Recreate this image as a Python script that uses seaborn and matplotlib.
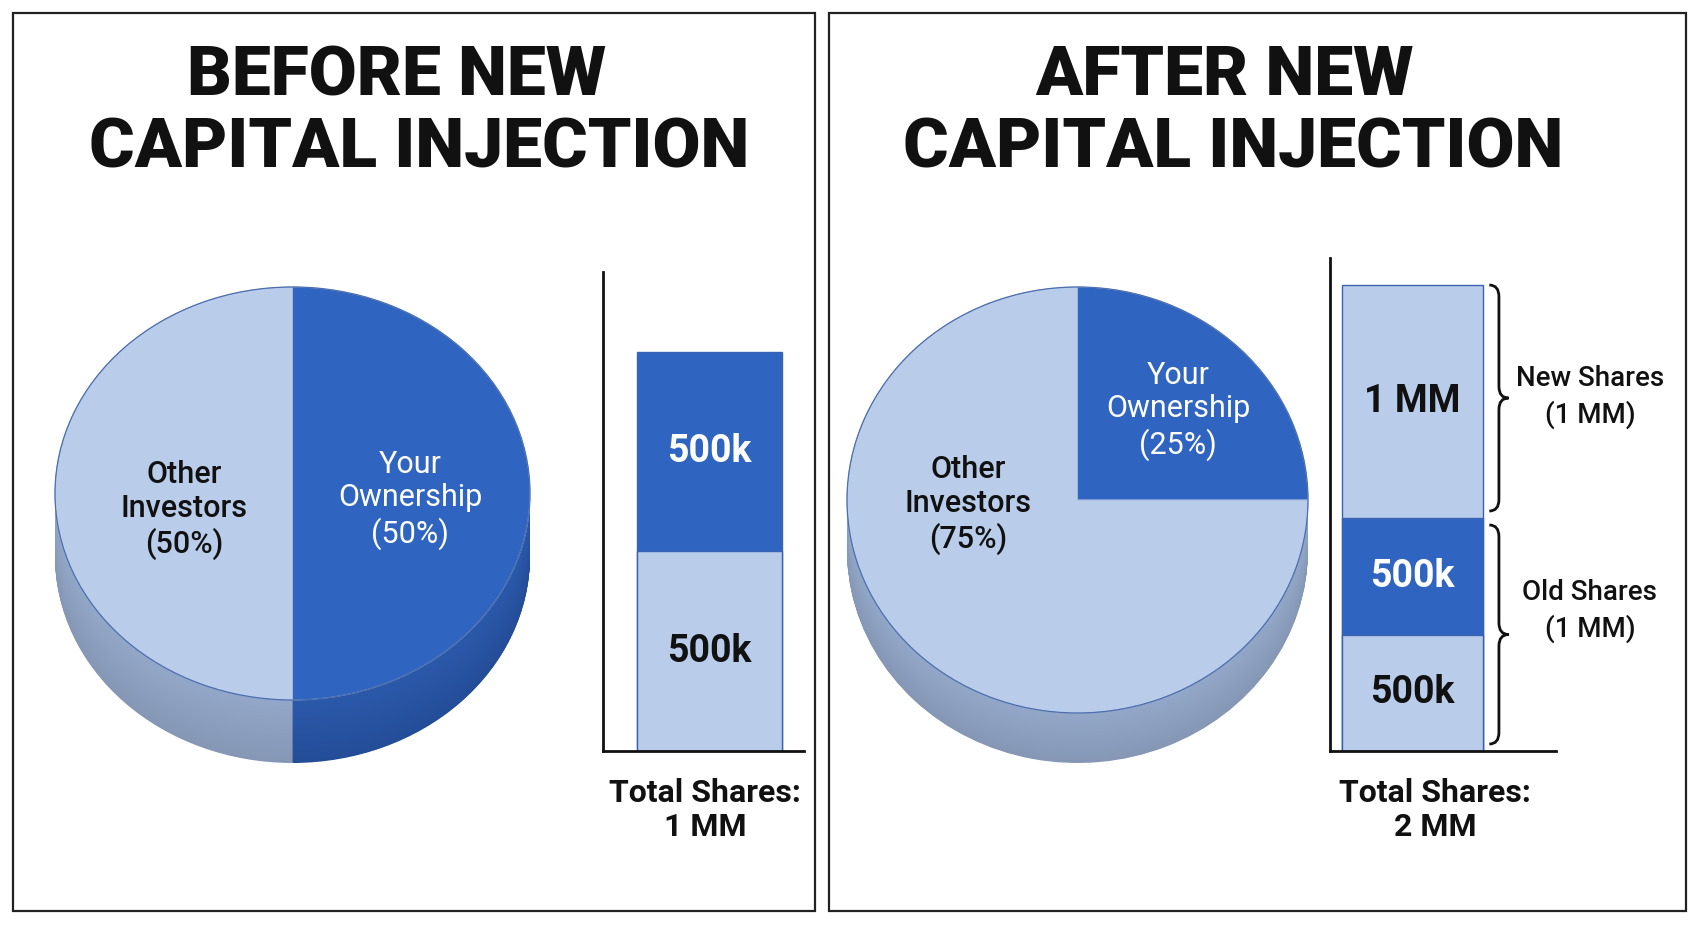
import numpy as np
import pandas as pd
import matplotlib
matplotlib.use("Agg")
import matplotlib.pyplot as plt
import seaborn as sns
from matplotlib.path import Path
from matplotlib.patches import PathPatch, Rectangle
from matplotlib.transforms import blended_transform_factory

# -------------------------
# data
# -------------------------
pie_labels = ["Your\nOwnership", "Other\nInvestors"]
before_pct = [50, 50]
after_pct = [25, 75]

before_shares = [500_000, 500_000]            # bottom -> top
before_seg_labels = ["500k", "500k"]
after_shares = [500_000, 500_000, 1_000_000]  # bottom -> top
after_seg_labels = ["500k", "500k", "1 MM"]

titles = [("BEFORE NEW", "CAPITAL INJECTION"), ("AFTER NEW", "CAPITAL INJECTION")]
totals = ["Total Shares:\n1 MM", "Total Shares:\n2 MM"]
brace_labels = ["New Shares\n(1 MM)", "Old Shares\n(1 MM)"]

# colours
LIGHT = "#b9cdea"
DARK = "#2f65c0"
SIDE_LIGHT = ("#8597b5", "#93a7c8")   # bottom, top
SIDE_DARK = ("#244d98", "#2b59aa")
EDGE = "#3a62b0"
INK = "#111111"

W, H = 1700, 925

sns.set_theme(style="white")
plt.rcParams["font.family"] = ["Roboto", "DejaVu Sans"]

fig = plt.figure(figsize=(W / 100, H / 100), dpi=100)
fig.patch.set_facecolor("white")


def box(x0, y0, x1, y1):
    return [x0 / W, 1 - y1 / H, (x1 - x0) / W, (y1 - y0) / H]


def fx(x):
    return x / W


def fy(y):
    return 1 - y / H


def mix(c1, c2, t):
    a = np.array(matplotlib.colors.to_rgb(c1))
    b = np.array(matplotlib.colors.to_rgb(c2))
    return tuple(a + (b - a) * t)


# panel frames
for x0, x1 in [(13, 815), (829, 1686)]:
    fig.add_artist(Rectangle((fx(x0), fy(911)), (x1 - x0) / W, (911 - 13) / H,
                             fill=False, lw=1.6, ec="#222222",
                             transform=fig.transFigure))

# titles (each line has its own centre, as in the original)
title_centres = [(397, 419), (1224, 1233)]
for (l1, l2), (c1, c2) in zip(titles, title_centres):
    for txt, cx, base in [(l1, c1, 95), (l2, c2, 168)]:
        fig.text(fx(cx), fy(base), txt, ha="center", va="baseline",
                 fontsize=50, fontweight="black", color=INK,
                 family=["Roboto", "DejaVu Sans"])


# 3D-looking pie: stacked pies for the side wall, flat pie on top
def pie3d(cx, cy, rx, ry, depth, pct, label_pos):
    pad = 6
    ax = fig.add_axes(box(cx - rx - pad, cy - ry - pad, cx + rx + pad, cy + ry + depth + pad))
    steps = np.linspace(depth, 0.5, int(depth * 1.5))
    for d in steps:
        t = 1 - d / depth
        ax.pie(pct, startangle=90, counterclock=False, radius=1,
               center=(0, -d / ry),
               colors=[mix(*SIDE_DARK, t), mix(*SIDE_LIGHT, t)],
               wedgeprops=dict(linewidth=0))
    ax.pie(pct, startangle=90, counterclock=False, radius=1,
           colors=[DARK, LIGHT], wedgeprops=dict(linewidth=0.6, edgecolor="#9fb6dc"))
    # thin rim on the top face
    ax.pie([1], radius=1, colors=["none"],
           wedgeprops=dict(linewidth=0.9, edgecolor="#4d6fae", fill=False))
    ax.set_aspect("auto")
    ax.set_xlim(-(rx + pad) / rx, (rx + pad) / rx)
    ax.set_ylim(-(ry + depth + pad) / ry, (ry + pad) / ry)
    ax.axis("off")
    for (lx, ly), lab, p, col, wt in zip(label_pos, pie_labels, pct,
                                         ["white", INK], ["normal", "medium"]):
        ax.text((lx - cx) / rx, (cy - ly) / ry, f"{lab}\n({p}%)", ha="center",
                va="center", fontsize=22, color=col, fontweight=wt, linespacing=1.2)
    return ax


pie3d(292.5, 493.5, 237.5, 206.5, 63, before_pct, [(410, 500), (184, 510)])
pie3d(1077.5, 500, 230.5, 213, 50, after_pct, [(1178, 411), (968, 505)])


# stacked share bars (cumulative overlay, tallest first)
def share_bar(rect, bar_px, shares, seg_labels, colors, ytop):
    x0, y0, x1, y1 = rect
    ax = fig.add_axes(box(x0, y0, x1, y1))
    cum = np.cumsum(shares)
    for i in reversed(range(len(shares))):
        df = pd.DataFrame({"col": ["shares"], "val": [cum[i]]})
        sns.barplot(data=df, x="col", y="val", ax=ax, color=colors[i],
                    saturation=1, width=1, edgecolor=EDGE, linewidth=1.0,
                    errorbar=None)
    bw = bar_px[1] - bar_px[0]
    ax.set_xlim(-0.5 - (bar_px[0] - x0) / bw, 0.5 + (x1 - bar_px[1]) / bw)
    ax.set_ylim(0, ytop)
    ax.set_xticks([])
    ax.set_yticks([])
    ax.set_xlabel("")
    ax.set_ylabel("")
    ax.set_facecolor("none")
    for s in ["top", "right"]:
        ax.spines[s].set_visible(False)
    for s in ["left", "bottom"]:
        ax.spines[s].set_color(INK)
        ax.spines[s].set_linewidth(2)
    for i, lab in enumerate(seg_labels):
        mid = cum[i] - shares[i] / 2
        ax.text(0, mid, lab, ha="center", va="center", fontsize=27,
                fontweight="bold", color="white" if colors[i] == DARK else INK)
    return ax


share_bar((603, 272, 804, 751), (637, 782), before_shares, before_seg_labels,
          [LIGHT, DARK], 1.2e6)
axr = share_bar((1330, 258, 1556, 751), (1342, 1483), after_shares, after_seg_labels,
                [LIGHT, DARK, LIGHT], 2.116e6)


# curly braces next to the right bar
def brace(ax, xa, w, y0, y1, r):
    ym = (y0 + y1) / 2
    h = xa + w / 2
    verts = [(xa, y1), (h, y1), (h, y1 - r),
             (h, ym + r),
             (h, ym), (xa + w, ym),
             (h, ym), (h, ym - r),
             (h, y0 + r),
             (h, y0), (xa, y0)]
    codes = [Path.MOVETO, Path.CURVE3, Path.CURVE3, Path.LINETO, Path.CURVE3,
             Path.CURVE3, Path.CURVE3, Path.CURVE3, Path.LINETO, Path.CURVE3, Path.CURVE3]
    trans = blended_transform_factory(ax.transAxes, ax.transData)
    ax.add_patch(PathPatch(Path(verts, codes), fill=False, lw=2, ec=INK,
                           transform=trans, clip_on=False))


cum_after = np.cumsum(after_shares)
gap = 0.03e6
brace(axr, 0.705, 0.085, cum_after[1] + gap, cum_after[2], 0.05e6)
brace(axr, 0.705, 0.085, 0 + gap, cum_after[1] - gap, 0.05e6)
trans = blended_transform_factory(axr.transAxes, axr.transData)
axr.text(1.15, (cum_after[1] + cum_after[2]) / 2 + 0.02e6, brace_labels[0], transform=trans,
         ha="center", va="center", fontsize=20, fontweight="medium", color=INK,
         linespacing=1.4)
axr.text(1.15, cum_after[1] / 2 + 0.1e6, brace_labels[1], transform=trans,
         ha="center", va="center", fontsize=20, fontweight="medium", color=INK,
         linespacing=1.4)

# totals under the bars
for txt, cx in zip(totals, [705, 1435]):
    fig.text(fx(cx), fy(810), txt, ha="center", va="center", fontsize=23,
             fontweight="bold", color=INK, linespacing=1.15)

fig.savefig("out.png", dpi=100, facecolor="white")
